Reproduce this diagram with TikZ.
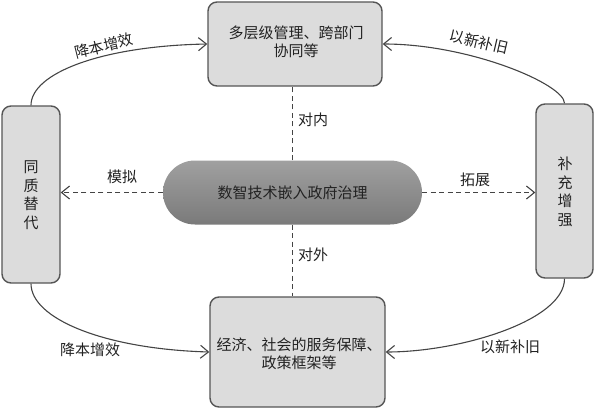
\documentclass[tikz,border=0pt]{standalone}
\usepackage{fontspec}
\setmainfont{Noto Sans CJK SC}
\usetikzlibrary{arrows.meta}
\definecolor{boxfill}{HTML}{DCDCDC}
\definecolor{boxline}{HTML}{555555}
\definecolor{linec}{HTML}{444444}
\definecolor{txt}{HTML}{222222}
\definecolor{elltop}{HTML}{A0A0A0}
\definecolor{ellbot}{HTML}{7A7A7A}
\begin{document}
\begin{tikzpicture}[x=1pt,y=-1pt,
  every node/.style={text=txt,font=\fontsize{15}{17.5}\selectfont},
  gbox/.style={draw=boxline,fill=boxfill,line width=1.4pt,rounded corners=9pt,inner sep=0pt,align=center},
  conn/.style={draw=linec,line width=1.1pt,-{Straight Barb[length=8pt,width=13pt,line width=1.1pt]}},
  dconn/.style={draw=linec,line width=1.1pt,dash pattern=on 5pt off 3.5pt},
  lbl/.style={inner sep=0pt}]
\useasboundingbox (0,0) rectangle (595,410);
% boxes
\node[gbox,minimum width=174pt,minimum height=84pt] (top) at (295,44) {};
\node[lbl,align=center] (toptxt) at (296,42) {多层级管理、跨部门\\协同等};
\node[gbox,minimum width=175pt,minimum height=110pt] (bot) at (297.5,352) {};
\node[lbl,align=center] (bottxt) at (299,354) {经济、社会的服务保障、\\政策框架等};
\node[gbox,minimum width=58pt,minimum height=177pt] (left) at (31,194.5) {};
\node[lbl,align=center,font=\fontsize{15}{18.5}\selectfont] (lefttxt) at (31,195) {同\\质\\替\\代};
\node[gbox,minimum width=57pt,minimum height=174pt] (right) at (564.5,191) {};
\node[lbl,align=center,font=\fontsize{15}{18.5}\selectfont] (righttxt) at (565,192) {补\\充\\增\\强};
% central stadium
\node[rounded corners=32pt,minimum width=259pt,minimum height=64pt,inner sep=0pt,
      top color=elltop,bottom color=ellbot] (ell) at (292.5,192.5) {数智技术嵌入政府治理};
% dashed connectors
\path[dconn] (ell.north) -- (ell.north |- top.south);
\path[dconn] (ell.south) -- (ell.south |- bot.north);
\path[dconn,-{Straight Barb[length=8pt,width=13pt,line width=1.1pt]}] (ell.west) -- (ell.west -| left.east);
\path[dconn,-{Straight Barb[length=8pt,width=13pt,line width=1.1pt]}] (ell.east) -- (ell.east -| right.west);
\node[lbl] (nei) at (313,120) {对内};
\node[lbl] (wai) at (313,255) {对外};
\node[lbl] (moni) at (122,177) {模拟};
\node[lbl] (tuo) at (475,180) {拓展};
% curved connectors
\path[conn] (left.north) .. controls +(0,-32) and +(-106,2) .. (top.west);
\path[conn] (right.north) .. controls +(0,-19) and +(87,0) .. (top.east);
\path[conn] (left.south) .. controls +(0,35) and +(-105,-3) .. (bot.west);
\path[conn] (right.south) .. controls +(0,42) and +(74,0) .. (bot.east);
\node[lbl,rotate=14] (jb1) at (104,46) {降本增效};
\node[lbl,rotate=-13] (yx1) at (479,42) {以新补旧};
\node[lbl] (jb2) at (90,350) {降本增效};
\node[lbl] (yx2) at (510,347) {以新补旧};
\end{tikzpicture}
\end{document}
